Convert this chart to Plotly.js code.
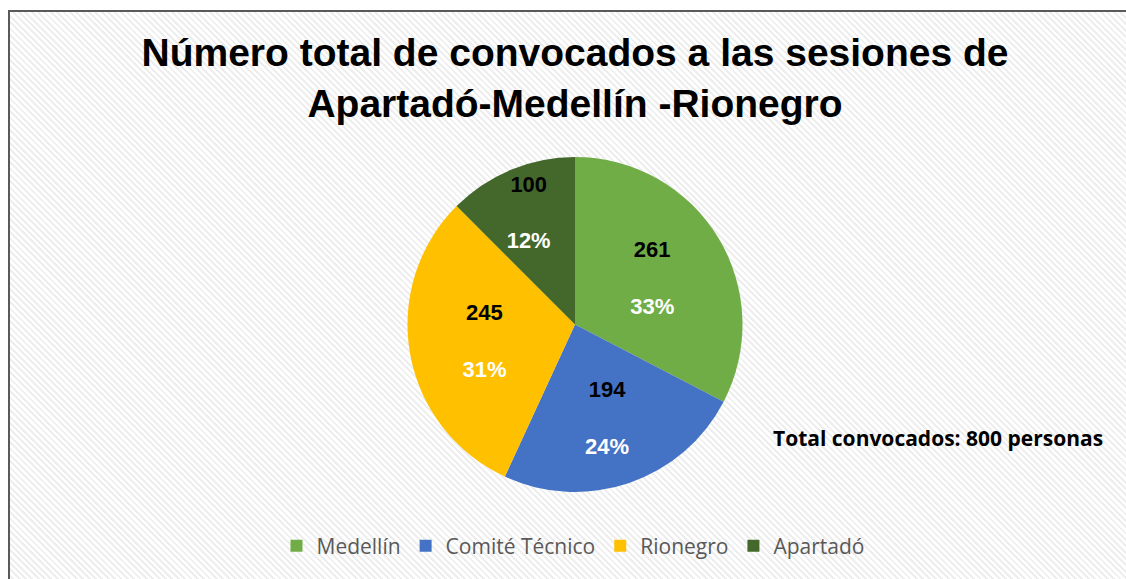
<!DOCTYPE html>
<html>
<head>
<meta charset="utf-8">
<script src="https://cdn.plot.ly/plotly-3.0.1.min.js"></script>
<style>
  html, body { margin: 0; padding: 0; background: #ffffff; }
  #frame {
    position: absolute; left: 8px; top: 10px; width: 1200px; height: 700px;
    border: 2px solid #5a5a5a; box-sizing: border-box;
    background: repeating-linear-gradient(45deg, #ffffff 0px, #ffffff 2.5px, #eeeeee 2.5px, #eeeeee 4.5px);
  }
  #chart { position: absolute; left: 0; top: 0; width: 1126px; height: 579px; }
</style>
</head>
<body>
<div id="frame"></div>
<div id="chart"></div>
<script>
const categories = ["Medellín", "Comité Técnico", "Rionegro", "Apartadó"];
const values = [261, 194, 245, 100];
const percentLabels = ["33%", "24%", "31%", "12%"];
const colors = ["#70AD47", "#4472C4", "#FFC000", "#44682C"];
const titleText = "Número total de convocados a las sesiones de<br>Apartadó-Medellín -Rionegro";
const total = values.reduce((a, b) => a + b, 0);

const W = 1126, H = 579;
const trace = {
  type: "pie",
  labels: categories,
  values: values,
  customdata: percentLabels,
  sort: false,
  direction: "clockwise",
  rotation: 0,
  marker: { colors: colors, line: { width: 0 } },
  textinfo: "text",
  texttemplate: "<span style='color:#000000'>%{value}</span><br><br><span style='color:#ffffff'>%{customdata}</span>",
  textposition: "inside",
  insidetextorientation: "horizontal",
  insidetextfont: { family: "Liberation Sans, Arial, sans-serif", size: 22, color: "#000000", weight: "bold" },
  hoverinfo: "label+value",
  domain: { x: [407 / W, 743 / W], y: [1 - 492 / H, 1 - 157 / H] }
};

const layout = {
  width: W, height: H,
  margin: { l: 0, r: 0, t: 0, b: 0 },
  paper_bgcolor: "rgba(0,0,0,0)",
  plot_bgcolor: "rgba(0,0,0,0)",
  title: {
    text: titleText,
    font: { family: "Liberation Sans, Arial, sans-serif", size: 39, color: "#000000", weight: "bold" },
    x: 575 / W, xanchor: "center",
    y: 1 - 66 / H, yanchor: "top", yref: "paper"
  },
  showlegend: true,
  legend: {
    orientation: "h",
    x: 573 / W, xanchor: "center",
    y: 1 - 546 / H, yanchor: "middle",
    font: { family: "Open Sans, sans-serif", size: 21, color: "#595959" },
    bgcolor: "rgba(0,0,0,0)",
    itemwidth: 30,
    traceorder: "normal"
  },
  annotations: [{
    text: "Total convocados: " + total + " personas",
    xref: "paper", yref: "paper",
    x: 938 / W, y: 1 - 438 / H, xanchor: "center", yanchor: "middle",
    showarrow: false,
    font: { family: "Open Sans, sans-serif", size: 21, color: "#000000", weight: "bold" }
  }]
};

Plotly.newPlot("chart", [trace], layout, { displayModeBar: false, staticPlot: true });
</script>
</body>
</html>
